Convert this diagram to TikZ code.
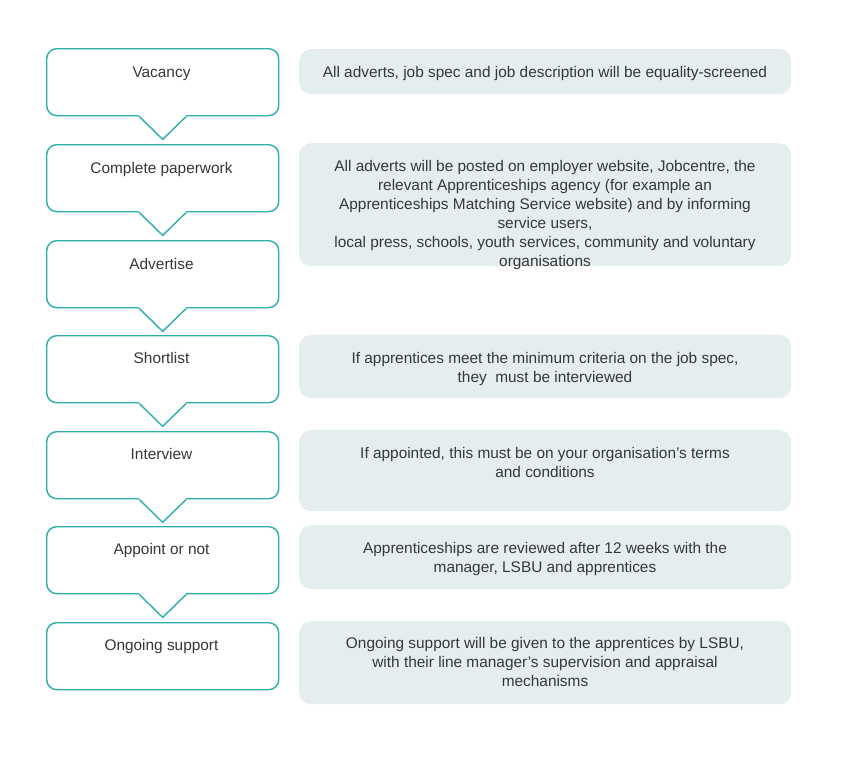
\documentclass[tikz,border=0pt]{standalone}
\usepackage{fontspec}
\setmainfont{Liberation Sans}
\definecolor{teal1}{HTML}{2BAFA8}
\definecolor{rfill}{HTML}{E5EEEE}
\definecolor{txt}{HTML}{36363C}
\tikzset{
  lbox/.style={draw=teal1, line width=1.4pt, fill=white, rounded corners=10pt, minimum width=232pt, minimum height=67pt, inner sep=0pt, anchor=north west},
  rbox/.style={fill=rfill, rounded corners=12pt, inner sep=0pt, anchor=north west, minimum width=492pt},
  chev/.style={draw=teal1, line width=1.4pt, line join=miter},
  ltext/.style={anchor=north, inner sep=0pt, text=txt, font=\fontsize{15.4}{19}\selectfont, align=center},
  rtext/.style={anchor=north, inner sep=0pt, text=txt, font=\fontsize{15.4}{19}\selectfont, align=center},
}
\begin{document}
\begin{tikzpicture}[x=1pt,y=-1pt]
\useasboundingbox[fill=white] (0,0) rectangle (843,761);
% left boxes with chevrons
\foreach \t/\n in {48/1,144/2,240/3,335/4,431/5,526/6,622/7}{
  \node[lbox] (L\n) at (46,\t) {};
}
\foreach \n in {1,...,6}{
  \coordinate (A\n) at ([xshift=-23.5pt]L\n.south);
  \coordinate (B\n) at ([xshift=23.5pt]L\n.south);
  \coordinate (C\n) at ([yshift=-23pt]L\n.south);
  \fill[white] ([yshift=1.2pt]A\n) rectangle ([yshift=-1.2pt]B\n);
  \draw[chev] (A\n) -- (C\n) -- (B\n);
}
% right boxes
\node[rbox, minimum height=45pt] (R1) at (299,49) {};
\node[rbox, minimum height=123pt] (R2) at (299,143) {};
\node[rbox, minimum height=63.5pt] (R3) at (299,334.5) {};
\node[rbox, minimum height=81pt] (R4) at (299,430) {};
\node[rbox, minimum height=64pt] (R5) at (299,525) {};
\node[rbox, minimum height=83pt] (R6) at (299,621) {};
% left texts
\node[ltext] (t1) at (161.5,66.5) {Vacancy};
\node[ltext] (t2) at (161.5,162) {Complete paperwork};
\node[ltext] (t3) at (161.5,258) {Advertise};
\node[ltext] (t4) at (161.5,352) {Shortlist};
\node[ltext] (t5) at (161.5,448) {Interview};
\node[ltext] (t6) at (161.5,543.5) {Appoint or not};
\node[ltext] (t7) at (161.5,639.5) {Ongoing support};
% right texts
\node[rtext] (r1) at (545,66.5) {All adverts, job spec and job description will be equality-screened};
\node[rtext] (r2) at (545,160.5) {All adverts will be posted on employer website, Jobcentre, the\\relevant Apprenticeships agency (for example an\\Apprenticeships Matching Service website) and by informing\\service users,\\local press, schools, youth services, community and voluntary\\organisations};
\node[rtext] (r3) at (545,352.5) {If apprentices meet the minimum criteria on the job spec,\\they\ \ must be interviewed};
\node[rtext] (r4) at (545,447.5) {If appointed, this must be on your organisation’s terms\\and conditions};
\node[rtext] (r5) at (545,542.5) {Apprenticeships are reviewed after 12 weeks with the\\manager, LSBU and apprentices};
\node[rtext] (r6) at (545,637.5) {Ongoing support will be given to the apprentices by LSBU,\\with their line manager’s supervision and appraisal\\mechanisms};
\end{tikzpicture}
\end{document}
